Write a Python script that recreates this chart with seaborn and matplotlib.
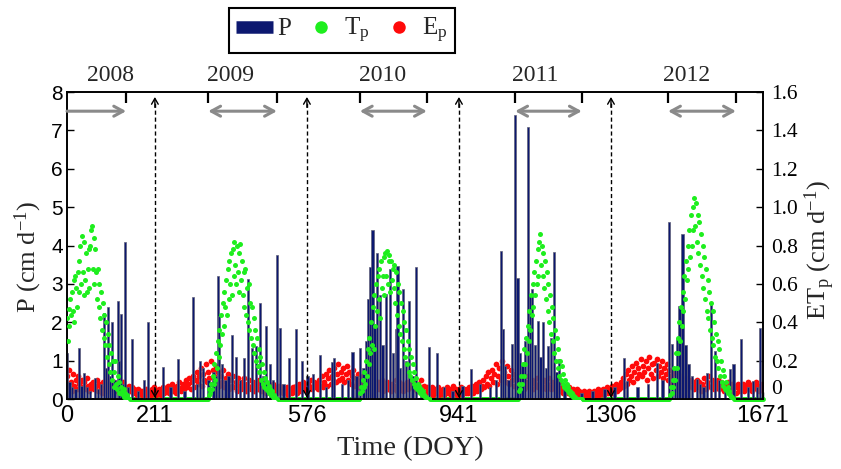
import numpy as np
import pandas as pd
import matplotlib
matplotlib.use("Agg")
import matplotlib.pyplot as plt
import seaborn as sns
from matplotlib.lines import Line2D
from matplotlib.ticker import FuncFormatter

# ---------------- data ----------------
x_ticks = [0, 211, 576, 941, 1306, 1671]
year_bounds = [0, 211, 576, 941, 1306, 1671]
year_labels = ["2008", "2009", "2010", "2011", "2012"]
season_start = [0, 339, 703, 1076, 1443]
season_end = [142, 504, 864, 1236, 1606]

# precipitation bars (day, cm/d)
P_day = [0, 6, 12, 20, 29, 35, 41, 48, 55, 67, 75, 82, 89, 94, 98, 103, 108, 114, 122, 126,
         130, 135, 139, 146, 156, 170, 185, 194, 231, 249, 266, 282, 302, 312, 319, 326, 340, 352, 358, 363,
         365, 372, 380, 388, 396, 406, 415, 425, 435, 444, 454, 463, 470, 478, 487, 495, 504, 511, 520, 533,
         550, 564, 578, 591, 607, 622, 638, 641, 660, 675, 686, 695, 703, 712, 718, 723, 729, 733, 738, 744,
         752, 758, 766, 776, 783, 790, 793, 800, 807, 814, 821, 830, 838, 850, 869, 888, 905, 925, 950, 970,
         992, 1015, 1030, 1042, 1047, 1052, 1060, 1068, 1076, 1081, 1088, 1094, 1100, 1107, 1112, 1117, 1124, 1131, 1137, 1143,
         1150, 1155, 1162, 1169, 1175, 1181, 1195, 1210, 1235, 1262, 1290, 1315, 1337, 1345, 1370, 1395, 1416, 1430, 1445, 1452,
         1460, 1466, 1471, 1478, 1485, 1492, 1500, 1513, 1520, 1528, 1536, 1546, 1556, 1565, 1580, 1592, 1600, 1618, 1635, 1647,
         1657, 1664]
P_val = [1.20, 0.45, 0.30, 0.25, 1.33, 0.35, 0.68, 0.30, 0.20, 0.55, 0.25, 0.40, 2.25, 0.80, 2.40, 0.60, 2.00, 0.50, 2.56, 1.00,
         2.22, 0.40, 4.10, 0.30, 1.57, 0.20, 0.50, 2.00, 0.83, 0.30, 1.04, 0.20, 2.65, 0.40, 0.99, 0.80, 0.50, 0.70, 0.60, 3.20,
         2.16, 0.90, 0.50, 0.60, 1.67, 1.10, 0.50, 1.07, 3.13, 1.33, 1.38, 2.50, 0.60, 1.90, 0.90, 0.50, 3.75, 1.85, 0.40, 1.07,
         1.83, 1.00, 0.60, 0.65, 1.15, 0.30, 0.97, 1.07, 0.40, 0.50, 1.22, 0.60, 1.33, 0.80, 1.50, 2.60, 3.43, 4.40, 1.90, 3.80,
         2.70, 1.40, 2.74, 3.39, 1.20, 1.83, 3.47, 0.80, 2.87, 1.00, 2.56, 0.60, 3.45, 0.30, 1.36, 1.20, 0.30, 0.20, 0.35, 0.78,
         0.39, 0.30, 0.50, 3.86, 1.83, 0.86, 0.50, 1.43, 7.39, 3.16, 1.20, 0.90, 1.50, 7.08, 2.74, 2.87, 1.40, 2.04, 1.10, 2.00,
         0.80, 1.38, 1.60, 3.84, 0.70, 1.04, 0.30, 0.20, 0.15, 0.20, 0.25, 0.30, 1.07, 0.47, 0.30, 0.40, 0.94, 0.50, 4.60, 1.43,
         0.80, 1.60, 2.43, 4.30, 1.40, 0.90, 0.60, 0.52, 0.40, 0.30, 0.68, 2.50, 1.25, 0.50, 0.30, 0.78, 0.91, 1.57, 0.30, 0.47,
         0.30, 1.85]

# transpiration Tp (cm/d), one value every 2 days from each season's first day
tp_start = [0, 340, 704, 1084, 1448]
tp_2008 = [0.42, 0.30, 0.47, 0.38, 0.52, 0.44,
           0.56, 0.46, 0.62, 0.40, 0.64, 0.58, 0.48, 0.66, 0.56, 0.72,
           0.80, 0.60, 0.85, 0.66, 0.54, 0.82, 0.62, 0.76, 0.56, 0.68,
           0.78, 0.58, 0.80, 0.88, 0.90, 0.68, 0.84, 0.60, 0.78, 0.66,
           0.52, 0.68, 0.48, 0.60, 0.42, 0.56, 0.36, 0.50, 0.32, 0.44,
           0.28, 0.40, 0.22, 0.34, 0.18, 0.28, 0.14, 0.24, 0.10, 0.20,
           0.14, 0.06, 0.20, 0.08, 0.05, 0.12, 0.03, 0.09, 0.03, 0.06,
           0.04, 0.02, 0.05, 0.01, 0.03, 0.00, 0.02, 0.00, 0.00, 0.00]
tp_2009 = [0.02, 0.05, 0.03, 0.08, 0.05, 0.12, 0.08, 0.18, 0.10, 0.24,
           0.16, 0.30, 0.22, 0.36, 0.28, 0.44, 0.34, 0.50, 0.38, 0.56,
           0.48, 0.62, 0.44, 0.68, 0.52, 0.72, 0.60, 0.76, 0.54, 0.78,
           0.64, 0.82, 0.70, 0.60, 0.80, 0.66, 0.76, 0.56, 0.81, 0.62,
           0.72, 0.54, 0.66, 0.48, 0.68, 0.44, 0.58, 0.40, 0.60, 0.36,
           0.50, 0.32, 0.48, 0.28, 0.42, 0.24, 0.36, 0.20, 0.32, 0.17,
           0.26, 0.14, 0.22, 0.10, 0.18, 0.08, 0.14, 0.06, 0.11, 0.05,
           0.09, 0.04, 0.07, 0.03, 0.05, 0.02, 0.04, 0.01, 0.02, 0.00, 0.01, 0.00, 0.00]
tp_2010 = [0.03, 0.06, 0.04, 0.10, 0.06, 0.14, 0.08, 0.20, 0.12, 0.26,
           0.18, 0.32, 0.24, 0.40, 0.28, 0.48, 0.26, 0.54, 0.38, 0.60,
           0.46, 0.64, 0.52, 0.68, 0.42, 0.72, 0.58, 0.64, 0.74, 0.54,
           0.76, 0.64, 0.77, 0.60, 0.72, 0.75, 0.56, 0.72, 0.62, 0.68,
           0.58, 0.70, 0.50, 0.66, 0.44, 0.60, 0.38, 0.56, 0.34, 0.50,
           0.30, 0.46, 0.26, 0.40, 0.22, 0.36, 0.18, 0.30, 0.14, 0.26,
           0.12, 0.22, 0.10, 0.18, 0.08, 0.14, 0.06, 0.11, 0.05, 0.08,
           0.04, 0.07, 0.03, 0.05, 0.02, 0.04, 0.02, 0.02, 0.01, 0.01, 0.00, 0.00, 0.00, 0.00]
tp_2011 = [0.04, 0.08, 0.05, 0.12, 0.08, 0.18, 0.12, 0.26, 0.18, 0.32,
           0.24, 0.38, 0.30, 0.46, 0.36, 0.54, 0.44, 0.60, 0.48, 0.66,
           0.54, 0.72, 0.60, 0.78, 0.64, 0.82, 0.86, 0.70, 0.80, 0.64,
           0.76, 0.58, 0.72, 0.52, 0.66, 0.46, 0.60, 0.40, 0.54, 0.34,
           0.48, 0.30, 0.42, 0.24, 0.36, 0.20, 0.32, 0.16, 0.26, 0.12,
           0.20, 0.10, 0.17, 0.08, 0.13, 0.06, 0.10, 0.05, 0.08, 0.04,
           0.06, 0.03, 0.04, 0.02, 0.03, 0.01, 0.02, 0.01, 0.01, 0.00, 0.00, 0.00, 0.00, 0.00, 0.00, 0.00, 0.00]
tp_2012 = [0.02, 0.06, 0.03, 0.10, 0.06, 0.16, 0.10, 0.24, 0.16, 0.32,
           0.24, 0.40, 0.30, 0.48, 0.38, 0.56, 0.46, 0.64, 0.52, 0.72,
           0.62, 0.80, 0.68, 0.88, 0.74, 0.96, 0.80, 1.00, 0.88, 1.05,
           0.90, 1.02, 0.82, 0.96, 0.76, 0.92, 0.70, 0.86, 0.64, 0.80,
           0.58, 0.74, 0.52, 0.68, 0.46, 0.62, 0.42, 0.56, 0.36, 0.50,
           0.32, 0.46, 0.28, 0.40, 0.22, 0.34, 0.20, 0.30, 0.16, 0.26,
           0.12, 0.20, 0.09, 0.15, 0.07, 0.12, 0.05, 0.09, 0.04, 0.06, 0.03, 0.04, 0.02, 0.01, 0.01, 0.00, 0.00]
# dormant periods where Tp = 0
tp_zero_spans = [(152, 338), (506, 702), (872, 1082), (1238, 1446), (1602, 1671)]

# soil evaporation Ep (cm/d), one value every 3 days from day 0
ep_vals = [
    0.12, 0.06, 0.15, 0.09, 0.04, 0.13, 0.07, 0.10, 0.05, 0.12, 0.08, 0.04, 0.10, 0.06, 0.09, 0.05, 0.11, 0.07, 0.04, 0.08,
    0.06, 0.09, 0.05, 0.07, 0.10, 0.04, 0.08, 0.06, 0.03, 0.09, 0.05, 0.07, 0.04, 0.08, 0.06, 0.10, 0.05, 0.07, 0.09, 0.04,
    0.06, 0.08, 0.04, 0.07, 0.05, 0.09, 0.04, 0.06, 0.03, 0.05, 0.07, 0.04, 0.06, 0.03, 0.05, 0.04, 0.02, 0.05, 0.03, 0.04,
    0.02, 0.04, 0.03, 0.05, 0.02, 0.03, 0.04, 0.02, 0.05, 0.03, 0.06, 0.02, 0.04, 0.03, 0.05, 0.02, 0.04, 0.06, 0.03, 0.05,
    0.04, 0.07, 0.03, 0.05, 0.08, 0.04, 0.06, 0.03, 0.07, 0.05, 0.09, 0.04, 0.06, 0.08, 0.05, 0.10, 0.06, 0.08, 0.11, 0.05,
    0.09, 0.12, 0.06, 0.10, 0.14, 0.08, 0.12, 0.16, 0.07, 0.13, 0.10, 0.18, 0.09, 0.14, 0.11, 0.20, 0.08, 0.15, 0.12, 0.17,
    0.10, 0.14, 0.07, 0.12, 0.09, 0.15, 0.06, 0.11, 0.08, 0.13, 0.05, 0.10, 0.07, 0.12, 0.06, 0.09, 0.04, 0.11, 0.07, 0.05,
    0.09, 0.06, 0.11, 0.04, 0.08, 0.06, 0.10, 0.05, 0.07, 0.09, 0.04, 0.06, 0.08, 0.05, 0.10, 0.04, 0.07, 0.05, 0.08, 0.03,
    0.06, 0.04, 0.07, 0.03, 0.05, 0.08, 0.04, 0.06, 0.03, 0.05, 0.07, 0.04, 0.06, 0.03, 0.05, 0.04, 0.06, 0.02, 0.05, 0.04,
    0.03, 0.06, 0.04, 0.07, 0.03, 0.05, 0.08, 0.04, 0.06, 0.09, 0.05, 0.07, 0.04, 0.08, 0.06, 0.10, 0.05, 0.07, 0.09, 0.06,
    0.08, 0.05, 0.10, 0.07, 0.12, 0.06, 0.09, 0.13, 0.07, 0.11, 0.15, 0.08, 0.12, 0.10, 0.16, 0.09, 0.13, 0.18, 0.10, 0.14,
    0.11, 0.16, 0.09, 0.13, 0.17, 0.10, 0.14, 0.08, 0.12, 0.15, 0.07, 0.11, 0.09, 0.13, 0.06, 0.10, 0.08, 0.12, 0.05, 0.09,
    0.07, 0.11, 0.05, 0.09, 0.06, 0.10, 0.04, 0.08, 0.06, 0.09, 0.05, 0.07, 0.10, 0.04, 0.08, 0.06, 0.09, 0.05, 0.07, 0.04,
    0.08, 0.05, 0.07, 0.10, 0.04, 0.06, 0.09, 0.05, 0.08, 0.04, 0.07, 0.06, 0.09, 0.05, 0.08, 0.11, 0.06, 0.09, 0.05, 0.07,
    0.04, 0.08, 0.05, 0.10, 0.06, 0.04, 0.07, 0.03, 0.06, 0.04, 0.05, 0.03, 0.06, 0.02, 0.04, 0.05, 0.03, 0.06, 0.02, 0.04,
    0.03, 0.05, 0.02, 0.04, 0.06, 0.03, 0.05, 0.02, 0.04, 0.07, 0.03, 0.05, 0.02, 0.04, 0.03, 0.06, 0.02, 0.04, 0.05, 0.03,
    0.05, 0.03, 0.06, 0.04, 0.07, 0.03, 0.05, 0.08, 0.04, 0.06, 0.09, 0.05, 0.07, 0.10, 0.06, 0.12, 0.08, 0.14, 0.07, 0.11,
    0.15, 0.09, 0.13, 0.18, 0.08, 0.12, 0.16, 0.10, 0.20, 0.11, 0.14, 0.09, 0.17, 0.12, 0.08, 0.15, 0.10, 0.13, 0.07, 0.11,
    0.09, 0.12, 0.06, 0.10, 0.08, 0.11, 0.05, 0.09, 0.07, 0.12, 0.06, 0.08, 0.10, 0.05, 0.09, 0.07, 0.11, 0.06, 0.08, 0.05,
    0.09, 0.06, 0.10, 0.05, 0.08, 0.07, 0.11, 0.05, 0.09, 0.06, 0.08, 0.04, 0.07, 0.05, 0.09, 0.04, 0.06, 0.03, 0.07, 0.04,
    0.05, 0.03, 0.06, 0.02, 0.04, 0.05, 0.02, 0.03, 0.05, 0.02, 0.04, 0.01, 0.03, 0.02, 0.04, 0.01, 0.03, 0.02, 0.04, 0.02,
    0.03, 0.01, 0.04, 0.02, 0.03, 0.05, 0.02, 0.04, 0.03, 0.05, 0.02, 0.04, 0.06, 0.03, 0.05, 0.04, 0.07, 0.03, 0.05, 0.08,
    0.04, 0.07, 0.05, 0.09, 0.06, 0.11, 0.07, 0.13, 0.08, 0.15, 0.10, 0.12, 0.17, 0.09, 0.14, 0.19, 0.11, 0.16, 0.13, 0.21,
    0.12, 0.17, 0.14, 0.20, 0.10, 0.16, 0.22, 0.13, 0.18, 0.11, 0.19, 0.15, 0.21, 0.12, 0.17, 0.14, 0.20, 0.11, 0.16, 0.13,
    0.18, 0.10, 0.15, 0.12, 0.08, 0.14, 0.10, 0.13, 0.07, 0.11, 0.09, 0.12, 0.06, 0.10, 0.08, 0.11, 0.05, 0.09, 0.07, 0.10,
    0.06, 0.09, 0.05, 0.08, 0.10, 0.06, 0.09, 0.04, 0.08, 0.06, 0.11, 0.05, 0.09, 0.07, 0.12, 0.06, 0.10, 0.08, 0.05, 0.09,
    0.07, 0.10, 0.05, 0.09, 0.06, 0.08, 0.04, 0.07, 0.05, 0.09, 0.06, 0.04, 0.08, 0.05, 0.07, 0.03, 0.06, 0.08, 0.04, 0.07,
    0.05, 0.08, 0.04, 0.07, 0.06, 0.09, 0.05, 0.07, 0.04, 0.08, 0.06, 0.09, 0.05, 0.07, 0.04, 0.06, 0.08, 0.05]

# ---------------- build tables ----------------
tp_lists = [tp_2008, tp_2009, tp_2010, tp_2011, tp_2012]
tp_frames = [pd.DataFrame({"day": s + 2 * np.arange(len(v)), "Tp": v}) for s, v in zip(tp_start, tp_lists)]
df_tp = pd.concat(tp_frames, ignore_index=True)
zero_days = np.concatenate([np.arange(a, b + 1, 2) for a, b in tp_zero_spans])
df_tp0 = pd.DataFrame({"day": zero_days, "Tp": np.zeros(len(zero_days))})
df_ep = pd.DataFrame({"day": 3 * np.arange(len(ep_vals)), "Ep": ep_vals})
df_p = pd.DataFrame({"day": P_day, "P": P_val})

# ---------------- style ----------------
sns.set_theme(style="ticks")
plt.rcParams["font.family"] = ["Liberation Serif", "DejaVu Serif"]
plt.rcParams["mathtext.fontset"] = "custom"
plt.rcParams["mathtext.rm"] = "Liberation Serif"
plt.rcParams["mathtext.it"] = "Liberation Serif:italic"
plt.rcParams["mathtext.bf"] = "Liberation Serif:bold"
plt.rcParams["axes.edgecolor"] = "black"
plt.rcParams["xtick.color"] = "black"
plt.rcParams["ytick.color"] = "black"

NAVY = "#0c1870"
GREEN = "#1eee1e"
RED = "#ff0a0a"
GREY = "#8a8a8a"

fig = plt.figure(figsize=(8.41, 4.69), dpi=100)
pos = [67 / 841, 1 - 399 / 469, (763 - 67) / 841, (399 - 92) / 469]
ax_e = fig.add_axes(pos)      # ET axis, bottom layer (Ep), right ticks
ax_p = ax_e.twinx()           # P axis (bars), left ticks
ax_g = ax_e.twinx()           # ET axis, top layer (Tp)

# Ep red points + Tp zero line (bottom layer)
sns.scatterplot(data=df_tp0, x="day", y="Tp", ax=ax_e, color=GREEN, s=12, linewidth=0,
                legend=False, clip_on=False, zorder=1)
sns.scatterplot(data=df_ep, x="day", y="Ep", ax=ax_e, color=RED, s=17, linewidth=0, legend=False, zorder=2)

# precipitation bars
ax_p.bar(df_p["day"], df_p["P"], width=6, color=NAVY, edgecolor="#606078", linewidth=0.5, zorder=2)

# Tp green points (top layer)
sns.scatterplot(data=df_tp, x="day", y="Tp", ax=ax_g, color=GREEN, s=13, linewidth=0, legend=False, zorder=3)

# limits
ax_e.set_xlim(0, 1671)
ax_e.set_ylim(0, 1.6)
ax_g.set_ylim(0, 1.6)
ax_p.set_ylim(0, 8)
ax_g.axis("off")

# axes / ticks
for a in (ax_e, ax_p):
    for sp in a.spines.values():
        sp.set_linewidth(1.2)
        sp.set_color("black")
ax_e.yaxis.tick_right()
ax_e.yaxis.set_label_position("right")
ax_p.yaxis.tick_left()
ax_p.yaxis.set_label_position("left")

ax_e.set_xticks(x_ticks)
ax_e.set_xticklabels([str(t) for t in x_ticks])
ax_e.tick_params(axis="x", direction="in", length=5, width=1.0, labelsize=17, pad=4,
                 labelfontfamily="Liberation Sans")
ax_e.set_yticks(np.arange(0, 1.61, 0.2))
ax_e.yaxis.set_major_formatter(FuncFormatter(lambda v, _: "0" if abs(v) < 1e-9 else f"{v:.1f}"))
ax_e.tick_params(axis="y", direction="in", length=5, width=1.0, labelsize=15.5, pad=6,
                 labelfontfamily="Liberation Serif", right=True, left=False)
ax_e.yaxis.get_major_ticks()[0].label2.set_va("bottom")
ax_p.set_yticks(range(0, 9))
ax_p.tick_params(axis="y", direction="in", length=5, width=1.0, labelsize=15, pad=3,
                 labelfontfamily="Liberation Sans", left=True, right=False)
ax_e.set_xlabel("")
ax_e.set_ylabel("")
ax_p.set_ylabel("")

# season tick marks on the top spine and grey season arrows
for s, e in zip(season_start, season_end):
    for d in (s, e):
        if d > 0:
            ax_p.plot([d, d], [8, 7.72], color="black", lw=1.6, clip_on=False, zorder=6,
                      solid_capstyle="butt")
    style = "->" if s == 0 else "<->"
    ax_p.annotate("", xy=(e, 7.5), xytext=(s, 7.5),
                  arrowprops=dict(arrowstyle=style + ",head_length=0.55,head_width=0.3",
                                  color=GREY, lw=2.2, shrinkA=0, shrinkB=0), zorder=6)

# dashed year-boundary arrows
for d in x_ticks[1:-1]:
    ax_p.plot([d, d], [0, 7.8], color="black", lw=1.0, ls=(0, (3, 2)), zorder=5)
    ax_p.annotate("", xy=(d, 7.87), xytext=(d, 7.6),
                  arrowprops=dict(arrowstyle="->,head_length=0.35,head_width=0.2", color="black",
                                  lw=1.0, shrinkA=0, shrinkB=0), zorder=5)
    ax_p.annotate("", xy=(d, 0.03), xytext=(d, 0.3),
                  arrowprops=dict(arrowstyle="->,head_length=0.35,head_width=0.2", color="black",
                                  lw=1.0, shrinkA=0, shrinkB=0), zorder=5)

# year labels above the axes
for i, lab in enumerate(year_labels):
    mid = (year_bounds[i] + year_bounds[i + 1]) / 2
    ax_p.text(mid, 8.42, lab, ha="center", va="center", fontsize=17, clip_on=False)

# axis labels
fig.text(410 / 841, 1 - 449 / 469, "Time (DOY)", ha="center", va="center", fontsize=20.5)
fig.text(28 / 841, 1 - 257 / 469, r"P (cm d$^{\mathrm{-1}}$)", ha="center", va="center",
         rotation=90, fontsize=19)
fig.text(820 / 841, 1 - 250 / 469, r"ET$_{\mathrm{p}}$ (cm d$^{\mathrm{-1}}$)", ha="center",
         va="center", rotation=90, fontsize=19)

# legend
handles = [Line2D([], [], color=NAVY, lw=9, solid_capstyle="butt"),
           Line2D([], [], ls="none", marker="o", markersize=9, markerfacecolor=GREEN, markeredgewidth=0),
           Line2D([], [], ls="none", marker="o", markersize=9, markerfacecolor=RED, markeredgewidth=0)]
labels = ["P", r"T$_{\mathrm{p}}$", r"E$_{\mathrm{p}}$"]
leg = fig.legend(handles, labels, loc="center", bbox_to_anchor=(342 / 841, 1 - 30.5 / 469), ncol=3,
                 frameon=True, fancybox=False, edgecolor="black", framealpha=1,
                 prop={"family": "Liberation Serif", "size": 18},
                 handlelength=1.45, handletextpad=0.2, columnspacing=0.45, borderpad=0.3,
                 borderaxespad=0)
leg.get_frame().set_linewidth(1.5)

fig.savefig("out.png", dpi=100)
